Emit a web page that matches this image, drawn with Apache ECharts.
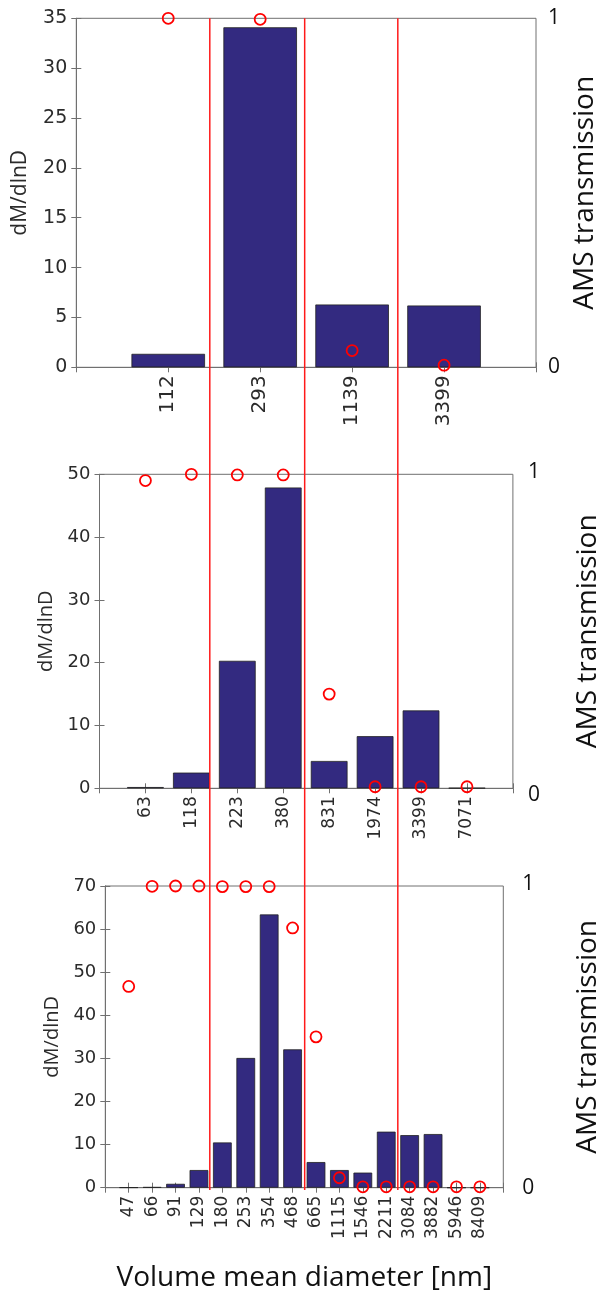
<!DOCTYPE html>
<html>
<head>
<meta charset="utf-8">
<script src="https://cdn.jsdelivr.net/npm/echarts@6/dist/echarts.min.js"></script>
<style>
  html, body { margin: 0; padding: 0; background: #fff; }
  #chart { width: 605px; height: 1298px; }
</style>
</head>
<body>
<div id="chart"></div>
<script>
// panel 1 (top)
const p1Labels = ['112', '293', '1139', '3399'];
const p1Mass = [1.35, 34.1, 6.3, 6.2];
const p1Trans = [1.0, 0.997, 0.048, 0.006];

// panel 2 (middle)
const p2Labels = ['63', '118', '223', '380', '831', '1974', '3399', '7071'];
const p2Mass = [0.2, 2.5, 20.3, 47.9, 4.35, 8.3, 12.4, 0.05];
const p2Trans = [0.98, 1.0, 0.998, 0.998, 0.30, 0.005, 0.005, 0.005];

// panel 3 (bottom)
const p3Labels = ['47', '66', '91', '129', '180', '253', '354', '468', '665', '1115', '1546', '2211', '3084', '3882', '5946', '8409'];
const p3Mass = [0.05, 0.15, 0.9, 4.1, 10.5, 30.1, 63.4, 32.1, 5.95, 4.1, 3.5, 13.0, 12.2, 12.45, 0, 0];
const p3Trans = [0.667, 0.999, 1, 1, 0.998, 0.998, 0.998, 0.861, 0.50, 0.033, 0.003, 0.003, 0.003, 0.003, 0.003, 0.003];

// y axis ranges
const yMax = [35, 50, 70];
const yStep = [5, 10, 10];

// red cut lines, in panel-1 x units
const cutPos = [1.452, 2.484, 3.497];

const chart = echarts.init(document.getElementById('chart'));

const boxColor = '#707070';
const txtColor = '#2b2b2b';

// layout of each panel
const panels = [
    { labels: p1Labels, mass: p1Mass, trans: p1Trans, left: 76.3, width: 459.7, top: 18.3, height: 349,
      yFont: 19, xFont: 20, nameGap: 46, nameSize: 21, amsGap: 35, rMargin: 12, lo: 0, hi: 0 },
    { labels: p2Labels, mass: p2Mass, trans: p2Trans, left: 99.5, width: 413.4, top: 474.3, height: 314,
      yFont: 18, xFont: 17, nameGap: 42, nameSize: 20, amsGap: 61, rMargin: 15, lo: 14, hi: 5 },
    { labels: p3Labels, mass: p3Mass, trans: p3Trans, left: 105.3, width: 398, top: 886, height: 301.7,
      yFont: 18, xFont: 17, nameGap: 39, nameSize: 20, amsGap: 71, rMargin: 19, lo: 0, hi: 3 }
];

const grid = [], xAxis = [], yAxis = [], series = [];

panels.forEach((p, i) => {
    const n = p.labels.length;
    grid.push({
        left: p.left, top: p.top, width: p.width, height: p.height,
        outerBoundsMode: 'none', containLabel: false,
        show: true, borderColor: boxColor, borderWidth: 1, backgroundColor: 'transparent'
    });
    // bottom axis with labels
    xAxis.push({
        type: 'value', gridIndex: i, position: 'bottom', min: 0, max: n + 1, interval: 1,
        axisLine: { show: true, lineStyle: { color: boxColor } },
        axisTick: { show: true, inside: true, length: 5, lineStyle: { color: boxColor } },
        splitLine: { show: false },
        axisLabel: {
            rotate: 90, margin: 8, fontFamily: 'DejaVu Sans', fontSize: p.xFont, color: txtColor,
            showMinLabel: true, showMaxLabel: true,
            formatter: v => p.labels[v - 1] || ''
        },
        name: i === 2 ? 'Volume mean diameter [nm]' : '',
        nameLocation: 'middle', nameGap: 76,
        nameTextStyle: { fontFamily: 'Open Sans', fontSize: 28, color: '#111' }
    });
    // top mirror axis (ticks only)
    xAxis.push({
        type: 'value', gridIndex: i, position: 'top', min: 0, max: n + 1, interval: 1,
        axisLine: { show: true, lineStyle: { color: boxColor } },
        axisTick: { show: true, inside: true, length: 5, lineStyle: { color: boxColor } },
        splitLine: { show: false }, axisLabel: { show: false }
    });
    // left dM/dlnD axis
    yAxis.push({
        type: 'value', gridIndex: i, position: 'left', min: 0, max: yMax[i], interval: yStep[i],
        axisLine: { show: true, lineStyle: { color: boxColor } },
        axisTick: { show: true, inside: true, length: 5, lineStyle: { color: boxColor } },
        splitLine: { show: false },
        axisLabel: { fontFamily: 'DejaVu Sans', fontSize: p.yFont, color: txtColor, margin: 9 },
        name: 'dM/dlnD', nameLocation: 'middle', nameRotate: 90, nameGap: p.nameGap,
        nameTextStyle: { fontFamily: 'Open Sans', fontSize: p.nameSize, color: txtColor }
    });
    // right mirror axis (ticks only)
    yAxis.push({
        type: 'value', gridIndex: i, position: 'right', min: 0, max: yMax[i], interval: yStep[i],
        axisLine: { show: true, lineStyle: { color: boxColor } },
        axisTick: { show: true, inside: true, length: 5, lineStyle: { color: boxColor } },
        splitLine: { show: false }, axisLabel: { show: false }
    });
    // right transmission axis
    yAxis.push({
        type: 'value', gridIndex: i, position: 'right', min: 0, max: 1, interval: 1,
        axisLine: { show: false }, axisTick: { show: false }, splitLine: { show: false },
        axisLabel: {
            margin: p.rMargin, fontFamily: 'Open Sans', fontSize: 21, color: '#111',
            formatter: v => (v === 0 ? '{lo|0}' : '{hi|1}'),
            rich: {
                lo: { fontFamily: 'Open Sans', fontSize: 21, color: '#111', padding: [p.lo, 0, 0, 0] },
                hi: { fontFamily: 'Open Sans', fontSize: 21, color: '#111', padding: [0, 0, p.hi, 0] }
            }
        },
        name: 'AMS transmission', nameLocation: 'middle', nameRotate: 90, nameGap: p.amsGap,
        nameTextStyle: { fontFamily: 'Open Sans', fontSize: 28, color: '#111' }
    });

    series.push({
        type: 'bar', xAxisIndex: 2 * i, yAxisIndex: 3 * i, barWidth: '80%',
        data: p.mass.map((v, k) => [k + 1, v]),
        itemStyle: { color: '#332a80', borderColor: '#222', borderWidth: 0.8 },
        silent: true
    });
    series.push({
        type: 'scatter', xAxisIndex: 2 * i, yAxisIndex: 3 * i + 2, clip: false,
        symbol: 'circle', symbolSize: 11, z: 5,
        data: p.trans.map((v, k) => [k + 1, v]),
        itemStyle: { color: 'rgba(0,0,0,0)', borderColor: '#ff0000', borderWidth: 1.8, opacity: 1 },
        silent: true
    });
});

// overlay grid for the red cut lines crossing all panels
grid.push({ left: 76.3, top: 18.3, width: 459.7, height: 1190 - 18.3, outerBoundsMode: 'none' });
xAxis.push({ type: 'value', gridIndex: 3, min: 0, max: 5, show: false });
yAxis.push({ type: 'value', gridIndex: 3, min: 0, max: 1, show: false });
cutPos.forEach(c => {
    series.push({
        type: 'line', xAxisIndex: 6, yAxisIndex: 9, symbol: 'none', z: 10,
        data: [[c, 0], [c, 1]],
        lineStyle: { color: '#ff1a1a', width: 1.5 },
        silent: true
    });
});

chart.setOption({
    animation: false,
    backgroundColor: '#fff',
    grid: grid,
    xAxis: xAxis,
    yAxis: yAxis,
    series: series
});
</script>
</body>
</html>
